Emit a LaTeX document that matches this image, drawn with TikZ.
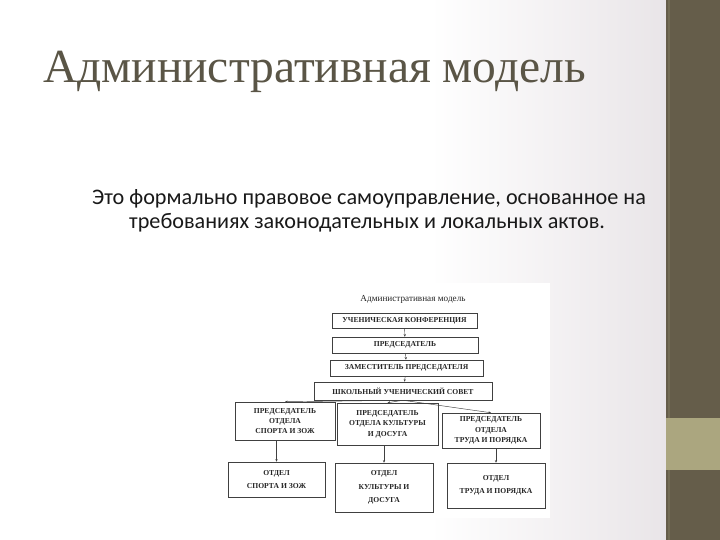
\documentclass[tikz,border=0pt]{standalone}
\usepackage{fontspec}
\setmainfont{Carlito}
\newfontfamily\headfont{Liberation Serif}
\newfontfamily\scanfont{Liberation Serif}
\usetikzlibrary{arrows.meta,positioning}

\definecolor{stripe}{RGB}{101,93,74}
\definecolor{band}{RGB}{171,166,127}
\definecolor{headgray}{RGB}{90,85,70}
\definecolor{paleside}{RGB}{233,229,232}

\tikzset{
  orgbox/.style={draw=black!75, line width=0.5pt, fill=white, align=center,
    inner sep=1pt, font=\scanfont\bfseries\fontsize{7.6}{10.4}\selectfont, text=black!85},
  unitbox/.style={orgbox, font=\scanfont\bfseries\fontsize{7.6}{13.5}\selectfont},
  link/.style={->, draw=black!75, line width=0.45pt}
}

\begin{document}
\begin{tikzpicture}[x=1pt, y=-1pt, >={Stealth[length=2.6pt,width=2.2pt]}]
    \useasboundingbox (0,0) rectangle (720,540);
    % slide background
    \fill[white] (0,0) rectangle (666,540);
    \shade[left color=white, right color=paleside] (430,0) rectangle (666,540);
    \fill[stripe] (666,0) rectangle (720,540);
    \fill[band] (666,418) rectangle (720,470);
    \draw[color=stripe!80!band, line width=1.2pt] (669,0) -- (669,418);
    \draw[color=stripe!80!band, line width=1.2pt] (669,470) -- (669,540);

    % texts
    \node[anchor=base west, inner sep=0pt, text=headgray] (title) at (43,83)
        {\headfont\fontsize{47.5}{52}\selectfont Административная модель};
    \node[anchor=base west, inner sep=0pt, text=black!90] (body1) at (92,205)
        {\fontsize{22.2}{26}\selectfont Это формально правовое самоуправление, основанное на};
    \node[anchor=base west, inner sep=0pt, text=black!90] (body2) at (129,229)
        {\fontsize{22.2}{26}\selectfont требованиях законодательных и локальных актов.};

    % scanned scheme
    \fill[white] (222,283) rectangle (550,518);
    \node[font=\scanfont\fontsize{9.2}{10}\selectfont, text=black!85] (cap) at (413,299)
        {Административная модель};

    \node[orgbox, minimum width=145pt, minimum height=15pt] (b1) at (404.5,320.5) {УЧЕНИЧЕСКАЯ КОНФЕРЕНЦИЯ};
    \node[orgbox, minimum width=146pt, minimum height=16pt] (b2) at (405,345) {ПРЕДСЕДАТЕЛЬ};
    \node[orgbox, minimum width=153pt, minimum height=16pt] (b3) at (406.5,368) {ЗАМЕСТИТЕЛЬ ПРЕДСЕДАТЕЛЯ};
    \node[orgbox, minimum width=178pt, minimum height=18pt] (b4) at (403,391) {ШКОЛЬНЫЙ УЧЕНИЧЕСКИЙ СОВЕТ};

    \node[orgbox, minimum width=100pt, minimum height=38pt] (b5) at (285,421)
        {ПРЕДСЕДАТЕЛЬ\\ОТДЕЛА\\СПОРТА И ЗОЖ};
    \node[orgbox, minimum width=101pt, minimum height=42pt] (b6) at (387.5,424)
        {ПРЕДСЕДАТЕЛЬ\\ОТДЕЛА КУЛЬТУРЫ\\И ДОСУГА};
    \node[orgbox, minimum width=98pt, minimum height=35pt] (b7) at (491,430.5)
        {ПРЕДСЕДАТЕЛЬ\\ОТДЕЛА\\ТРУДА И ПОРЯДКА};

    \node[unitbox, minimum width=97pt, minimum height=35pt] (b8) at (276.5,479.5)
        {ОТДЕЛ\\СПОРТА И ЗОЖ};
    \node[unitbox, minimum width=98pt, minimum height=49pt] (b9) at (384,487.5)
        {ОТДЕЛ\\КУЛЬТУРЫ И\\ДОСУГА};
    \node[unitbox, minimum width=98pt, minimum height=45pt] (b10) at (496,485.5)
        {ОТДЕЛ\\ТРУДА И ПОРЯДКА};

    \draw[link] (b1) -- (b2);
    \draw[link] (b2) -- (b3);
    \draw[link] (b3) -- (b4);
    \draw[link] (b4.south) -- (b5.north);
    \draw[link] (b4.south) -- (b6.north);
    \draw[link] (b4.south) -- (b7.north);
    \draw[link] (b5.south -| b8.north) -- (b8.north);
    \draw[link] (b6.south -| b9.north) -- (b9.north);
    \draw[link] (b7.south -| b10.north) -- (b10.north);
\end{tikzpicture}
\end{document}
